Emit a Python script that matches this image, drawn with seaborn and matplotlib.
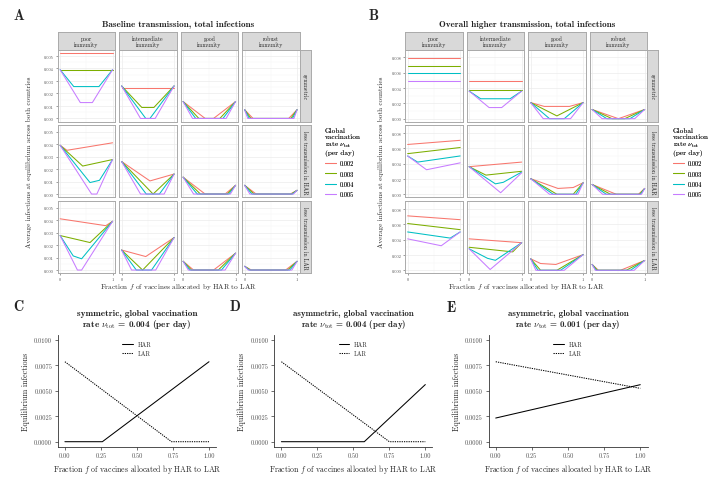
import numpy as np
import pandas as pd
import matplotlib
matplotlib.use("Agg")
import matplotlib.pyplot as plt
from matplotlib.lines import Line2D
import seaborn as sns

sns.set_style("white")
plt.rcParams["font.family"] = ["cmr10", "DejaVu Serif"]
plt.rcParams["mathtext.fontset"] = "cm"
plt.rcParams["axes.unicode_minus"] = False
plt.rcParams["axes.formatter.use_mathtext"] = True

W, H = 721, 481

rates = ["0.002", "0.003", "0.004", "0.005"]
rate_colors = ["#F8766D", "#7CAE00", "#00BFC4", "#C77CFF"]
immunity = ["poor\nimmunity", "intermediate\nimmunity", "good\nimmunity", "robust\nimmunity"]
scenarios = ["symmetric", "less transmission in HAR", "less transmission in LAR"]

# ---- panel A: baseline transmission (one (f, infections) pair per rate) ----
a_sym_poor = [([0, 1], [0.0052, 0.0052]),
              ([0, 1], [0.0039, 0.0039]),
              ([0, 0.26, 0.74, 1], [0.0039, 0.00255, 0.00255, 0.0039]),
              ([0, 0.385, 0.615, 1], [0.0039, 0.00127, 0.00127, 0.0039])]
a_sym_inter = [([0, 1], [0.0024, 0.0024]),
               ([0, 0.385, 0.615, 1], [0.0026, 0.00088, 0.00088, 0.0026]),
               ([0, 0.46, 0.54, 1], [0.0026, 0, 0, 0.0026]),
               ([0, 0.36, 0.64, 1], [0.0026, 0, 0, 0.0026])]
a_sym_good = [([0, 0.42, 0.58, 1], [0.00135, 0, 0, 0.00135]),
              ([0, 0.3, 0.7, 1], [0.00135, 0, 0, 0.00135]),
              ([0, 0.24, 0.76, 1], [0.00135, 0, 0, 0.00135]),
              ([0, 0.18, 0.82, 1], [0.00135, 0, 0, 0.00135])]
a_sym_robust = [([0, 0.16, 0.84, 1], [0.0007, 0, 0, 0.0007]),
                ([0, 0.12, 0.88, 1], [0.0007, 0, 0, 0.0007]),
                ([0, 0.09, 0.91, 1], [0.0007, 0, 0, 0.0007]),
                ([0, 0.06, 0.94, 1], [0.0007, 0, 0, 0.0007])]

a_har_poor = [([0, 0.13, 1], [0.0039, 0.0035, 0.0041]),
              ([0, 0.43, 1], [0.0039, 0.00224, 0.00276]),
              ([0, 0.57, 0.75, 1], [0.0039, 0.00092, 0.0011, 0.00276]),
              ([0, 0.6, 0.7, 1], [0.0039, 0, 0, 0.00276])]
a_har_inter = [([0, 0.54, 1], [0.0026, 0.00105, 0.0016]),
               ([0, 0.6, 1], [0.0026, 0, 0.0016]),
               ([0, 0.47, 0.72, 1], [0.0026, 0, 0, 0.0016]),
               ([0, 0.36, 0.81, 1], [0.0026, 0, 0, 0.0016])]
a_har_good = [([0, 0.42, 0.8, 1], [0.00135, 0, 0, 0.0007]),
              ([0, 0.33, 0.84, 1], [0.00135, 0, 0, 0.0007]),
              ([0, 0.27, 0.87, 1], [0.00135, 0, 0, 0.0007]),
              ([0, 0.2, 0.9, 1], [0.00135, 0, 0, 0.0007])]
a_har_robust = [([0, 0.22, 0.87, 1], [0.0007, 0, 0, 0.0003]),
                ([0, 0.18, 0.89, 1], [0.0007, 0, 0, 0.0003]),
                ([0, 0.14, 0.91, 1], [0.0007, 0, 0, 0.0003]),
                ([0, 0.1, 0.93, 1], [0.0007, 0, 0, 0.0003])]

a_lar_poor = [([0, 0.87, 1], [0.0041, 0.00355, 0.0039]),
              ([0, 0.57, 1], [0.00276, 0.0022, 0.0039]),
              ([0, 0.25, 0.41, 1], [0.00276, 0.00113, 0.0009, 0.0039]),
              ([0, 0.33, 0.41, 1], [0.00276, 0, 0, 0.0039])]
a_lar_inter = [([0, 0.46, 1], [0.0016, 0.00108, 0.0026]),
               ([0, 0.4, 1], [0.0016, 0, 0.0026]),
               ([0, 0.28, 0.57, 1], [0.0016, 0, 0, 0.0026]),
               ([0, 0.19, 0.65, 1], [0.0016, 0, 0, 0.0026])]
a_lar_good = [([0, 0.2, 0.58, 1], [0.0007, 0, 0, 0.00135]),
              ([0, 0.16, 0.67, 1], [0.0007, 0, 0, 0.00135]),
              ([0, 0.13, 0.73, 1], [0.0007, 0, 0, 0.00135]),
              ([0, 0.1, 0.8, 1], [0.0007, 0, 0, 0.00135])]
a_lar_robust = [([0, 0.13, 0.78, 1], [0.0003, 0, 0, 0.0007]),
                ([0, 0.11, 0.82, 1], [0.0003, 0, 0, 0.0007]),
                ([0, 0.09, 0.86, 1], [0.0003, 0, 0, 0.0007]),
                ([0, 0.07, 0.9, 1], [0.0003, 0, 0, 0.0007])]

# ---- panel B: overall higher transmission ----
b_sym_poor = [([0, 1], [0.0079, 0.0079]),
              ([0, 1], [0.0069, 0.0069]),
              ([0, 1], [0.0059, 0.0059]),
              ([0, 1], [0.0049, 0.0049])]
b_sym_inter = [([0, 1], [0.0049, 0.0049]),
               ([0, 1], [0.00375, 0.00375]),
               ([0, 0.22, 0.78, 1], [0.0036, 0.0026, 0.0026, 0.0036]),
               ([0, 0.38, 0.62, 1], [0.0036, 0.00145, 0.00145, 0.0036])]
b_sym_good = [([0, 0.26, 0.74, 1], [0.0021, 0.0016, 0.0016, 0.0021]),
              ([0, 0.5, 1], [0.0021, 0.00036, 0.0021]),
              ([0, 0.36, 0.64, 1], [0.0021, 0, 0, 0.0021]),
              ([0, 0.24, 0.76, 1], [0.0021, 0, 0, 0.0021])]
b_sym_robust = [([0, 0.5, 1], [0.0012, 0, 0.0012]),
                ([0, 0.38, 0.62, 1], [0.0012, 0, 0, 0.0012]),
                ([0, 0.28, 0.72, 1], [0.0012, 0, 0, 0.0012]),
                ([0, 0.19, 0.81, 1], [0.0012, 0, 0, 0.0012])]

b_har_poor = [([0, 1], [0.0065, 0.00704]),
              ([0, 1], [0.0053, 0.0061]),
              ([0, 0.19, 1], [0.005, 0.0042, 0.005]),
              ([0, 0.36, 1], [0.005, 0.0032, 0.0041])]
b_har_inter = [([0, 1], [0.0036, 0.0042]),
               ([0, 0.32, 1], [0.0036, 0.0025, 0.003]),
               ([0, 0.5, 0.65, 1], [0.0036, 0.00136, 0.00156, 0.0029]),
               ([0, 0.6, 1], [0.0036, 0.0002, 0.0028])]
b_har_good = [([0, 0.52, 0.81, 1], [0.00204, 0.00076, 0.00088, 0.0015]),
              ([0, 0.5, 0.81, 1], [0.00204, 0, 0, 0.0015]),
              ([0, 0.43, 0.86, 1], [0.00204, 0, 0, 0.0015]),
              ([0, 0.36, 0.9, 1], [0.00204, 0, 0, 0.0015])]
b_har_robust = [([0, 0.46, 0.88, 1], [0.00128, 0, 0, 0.00076]),
                ([0, 0.35, 0.9, 1], [0.00128, 0, 0, 0.00076]),
                ([0, 0.27, 0.92, 1], [0.00128, 0, 0, 0.00076]),
                ([0, 0.2, 0.94, 1], [0.00128, 0, 0, 0.00076])]

b_lar_poor = [([0, 1], [0.0071, 0.0066]),
              ([0, 1], [0.0061, 0.0053]),
              ([0, 0.81, 1], [0.005, 0.0042, 0.005]),
              ([0, 0.64, 1], [0.0041, 0.0032, 0.005])]
b_lar_inter = [([0, 1], [0.0041, 0.0036]),
               ([0, 0.83, 1], [0.003, 0.0024, 0.0036]),
               ([0, 0.35, 0.5, 1], [0.0028, 0.00156, 0.0013, 0.0036]),
               ([0, 0.4, 1], [0.0028, 0.0001, 0.0036])]
b_lar_good = [([0, 0.19, 0.48, 1], [0.0015, 0.00088, 0.00076, 0.00204]),
              ([0, 0.19, 0.5, 1], [0.0015, 0, 0, 0.00204]),
              ([0, 0.14, 0.57, 1], [0.0015, 0, 0, 0.00204]),
              ([0, 0.1, 0.64, 1], [0.0015, 0, 0, 0.00204])]
b_lar_robust = [([0, 0.12, 0.54, 1], [0.00076, 0, 0, 0.00128]),
                ([0, 0.1, 0.65, 1], [0.00076, 0, 0, 0.00128]),
                ([0, 0.08, 0.73, 1], [0.00076, 0, 0, 0.00128]),
                ([0, 0.06, 0.8, 1], [0.00076, 0, 0, 0.00128])]

grid_a = [[a_sym_poor, a_sym_inter, a_sym_good, a_sym_robust],
          [a_har_poor, a_har_inter, a_har_good, a_har_robust],
          [a_lar_poor, a_lar_inter, a_lar_good, a_lar_robust]]
grid_b = [[b_sym_poor, b_sym_inter, b_sym_good, b_sym_robust],
          [b_har_poor, b_har_inter, b_har_good, b_har_robust],
          [b_lar_poor, b_lar_inter, b_lar_good, b_lar_robust]]

# ---- panels C, D, E: equilibrium infections per country ----
c_har_f, c_har = [0, 0.26, 1], [0, 0, 0.00784]
c_lar_f, c_lar = [0, 0.74, 1], [0.00784, 0, 0]
d_har_f, d_har = [0, 0.576, 1], [0, 0, 0.0056]
d_lar_f, d_lar = [0, 0.75, 1], [0.00784, 0, 0]
e_har_f, e_har = [0, 1], [0.00232, 0.00559]
e_lar_f, e_lar = [0, 1], [0.00784, 0.00523]

fig = plt.figure(figsize=(W / 100, H / 100), dpi=100)
renderer = fig.canvas.get_renderer()


def fit(t, target, vertical=False):
    # scale a text's font so its drawn extent matches the reference (pixels)
    bb = t.get_window_extent(renderer=renderer)
    size = bb.height if vertical else bb.width
    t.set_fontsize(t.get_fontsize() * target / size)


def px_axes(l, t, r, b):
    return fig.add_axes([l / W, 1 - b / H, (r - l) / W, (b - t) / H])


def facet_frame(series):
    rows = []
    for rate, (fs, ys) in zip(rates, series):
        for f, y in zip(fs, ys):
            rows.append((rate, f, y))
    return pd.DataFrame(rows, columns=["rate", "f", "inf"])


def strip(l, t, r, b, text, rot=0):
    sa = px_axes(l, t, r, b)
    sa.set_facecolor("#D9D9D9")
    sa.set_xticks([]); sa.set_yticks([])
    for s in sa.spines.values():
        s.set_color("#AAAAAA"); s.set_linewidth(0.7)
    sa.text(0.5, 0.5, text, rotation=rot, ha="center", va="center",
            fontsize=4.2, color="#1A1A1A", linespacing=1.1, transform=sa.transAxes)


def draw_facets(grid, lefts, pw, tops, ph, yticks, ylabels):
    ymax = max(max(max(ys) for _, ys in s) for row in grid for s in row)
    ylim = (-0.05 * ymax, 1.05 * ymax)
    step = yticks[1] - yticks[0]
    for i, row in enumerate(grid):
        for j, series in enumerate(row):
            ax = px_axes(lefts[j], tops[i], lefts[j] + pw, tops[i] + ph)
            sns.lineplot(data=facet_frame(series), x="f", y="inf", hue="rate",
                         hue_order=rates, palette=rate_colors, estimator=None,
                         legend=False, lw=0.75, ax=ax)
            ax.set_xlim(-0.05, 1.05)
            ax.set_ylim(ylim)
            ax.set_xticks([0, 1])
            ax.set_xticks([0.5], minor=True)
            ax.set_yticks(yticks)
            ax.set_yticks([t + step / 2 for t in yticks], minor=True)
            ax.grid(True, which="major", color="#EBEBEB", lw=0.5)
            ax.grid(True, which="minor", color="#F5F5F5", lw=0.3)
            ax.set_axisbelow(True)
            ax.set_xlabel(""); ax.set_ylabel("")
            for s in ax.spines.values():
                s.set_color("#AAAAAA"); s.set_linewidth(0.7)
            ax.tick_params(which="minor", length=0)
            ax.tick_params(which="major", length=1.5, width=0.4, color="#555555",
                           labelsize=3.15, labelcolor="#4D4D4D", pad=1)
            if j == 0:
                ax.set_yticklabels(ylabels)
                ax.tick_params(axis="y", left=True)
            else:
                ax.tick_params(axis="y", left=False, labelleft=False)
            if i == len(grid) - 1:
                ax.set_xticklabels(["0", "1"])
                ax.tick_params(axis="x", bottom=True)
            else:
                ax.tick_params(axis="x", bottom=False, labelbottom=False)
    for j, lab in enumerate(immunity):
        strip(lefts[j], 33, lefts[j] + pw, tops[0], lab)
    sl = lefts[-1] + pw
    for i, lab in enumerate(scenarios):
        strip(sl, tops[i], sl + 11, tops[i] + ph, lab, rot=-90)


tops = [50.7, 126.3, 202.3]
ph = 72
draw_facets(grid_a, [57.5, 119.0, 180.5, 242.0], 57.7, tops, ph,
            [0, 0.001, 0.002, 0.003, 0.004, 0.005],
            ["0.000", "0.001", "0.002", "0.003", "0.004", "0.005"])
draw_facets(grid_b, [405.0, 466.5, 528.0, 589.5], 57.8, tops, ph,
            [0, 0.002, 0.004, 0.006, 0.008],
            ["0.000", "0.002", "0.004", "0.006", "0.008"])

xlab = "Fraction $f$ of vaccines allocated by HAR to LAR"
ylab = "Average infections at equilibrium across both countries"
for cx, yx, ttl, tw in [(178.5, 29.5, "Baseline transmission, total infections", 152),
                        (526.7, 381.0, "Overall higher transmission, total infections", 176)]:
    t = fig.text(cx / W, 1 - 25 / H, ttl, ha="center", va="center", fontsize=5.1,
                 fontfamily="cmb10")
    fit(t, tw)
    t = fig.text(cx / W, 1 - 287 / H, xlab, ha="center", va="center", fontsize=5.3)
    fit(t, 157)
    t = fig.text(yx / W, 1 - 162.5 / H, ylab, ha="center", va="center",
                 rotation=90, fontsize=5.1)
    fit(t, 172, vertical=True)

handles = [Line2D([], [], color=c, lw=0.75) for c in rate_colors]
for lx in [320.5, 668.5]:
    leg = fig.legend(handles, rates, title="Global\nvaccination\nrate $\\nu_{\\rm tot}$\n(per day)",
                     loc="upper left", bbox_to_anchor=(lx / W, 1 - 124 / H),
                     frameon=False, fontsize=4.5,
                     title_fontproperties={"family": "cmr10", "weight": "normal", "size": 5.2},
                     handlelength=1.7, handletextpad=0.7, labelspacing=0.72,
                     alignment="left", borderpad=0.2)
    leg.get_title().set_linespacing(1.05)
    fig.add_artist(leg)


def draw_bottom(l, r, title, har_f, har, lar_f, lar):
    ax = px_axes(l, 335.6, r, 447.8)
    sns.lineplot(x=har_f, y=har, color="black", lw=0.75, label="HAR", ax=ax)
    sns.lineplot(x=lar_f, y=lar, color="black", lw=0.75, linestyle=(0, (1.2, 1.0)),
                 label="LAR", ax=ax)
    ax.set_xlim(-0.05, 1.05)
    ax.set_ylim(-0.0005, 0.0105)
    ax.set_xticks([0, 0.25, 0.5, 0.75, 1.0])
    ax.set_xticklabels(["0.00", "0.25", "0.50", "0.75", "1.00"])
    ax.set_yticks([0, 0.0025, 0.005, 0.0075, 0.01])
    ax.set_yticklabels(["0.0000", "0.0025", "0.0050", "0.0075", "0.0100"])
    for side in ["top", "right"]:
        ax.spines[side].set_visible(False)
    for side in ["left", "bottom"]:
        ax.spines[side].set_color("#333333"); ax.spines[side].set_linewidth(0.6)
    ax.tick_params(length=2, width=0.5, color="#333333", labelsize=4.6,
                   labelcolor="#4D4D4D", pad=2, bottom=True, left=True)
    ax.set_xlabel(xlab, fontsize=5.6, labelpad=2.5)
    ax.set_ylabel("Equilibrium infections", fontsize=5.8, labelpad=3)
    ax.legend(loc="upper center", bbox_to_anchor=(0.5, 0.99), frameon=False,
              fontsize=4.4, handlelength=1.7, labelspacing=0.55, handletextpad=0.8)
    t = fig.text((l + r) / 2 / W, 1 - 321 / H, title, ha="center", va="center",
                 fontsize=5.6, fontfamily="cmb10", linespacing=1.0)
    fit(t, 120)


draw_bottom(57.7, 216.2, "symmetric, global vaccination\nrate $\\nu_{\\rm tot}$ = 0.004 (per day)",
            c_har_f, c_har, c_lar_f, c_lar)
draw_bottom(274.2, 432.5, "asymmetric, global vaccination\nrate $\\nu_{\\rm tot}$ = 0.004 (per day)",
            d_har_f, d_har, d_lar_f, d_lar)
draw_bottom(488.5, 647.5, "asymmetric, global vaccination\nrate $\\nu_{\\rm tot}$ = 0.001 (per day)",
            e_har_f, e_har, e_lar_f, e_lar)

for lab, x, y in [("A", 18.5, 16.5), ("B", 373.5, 16.5), ("C", 18.5, 307),
                  ("D", 235, 307), ("E", 451, 308)]:
    t = fig.text(x / W, 1 - y / H, lab, ha="center", va="center", fontsize=10.5,
                 fontfamily="cmb10")
    if lab == "A":
        fit(t, 10.7)
        letter_size = t.get_fontsize()
    else:
        t.set_fontsize(letter_size)

fig.savefig("out.png", dpi=100)
